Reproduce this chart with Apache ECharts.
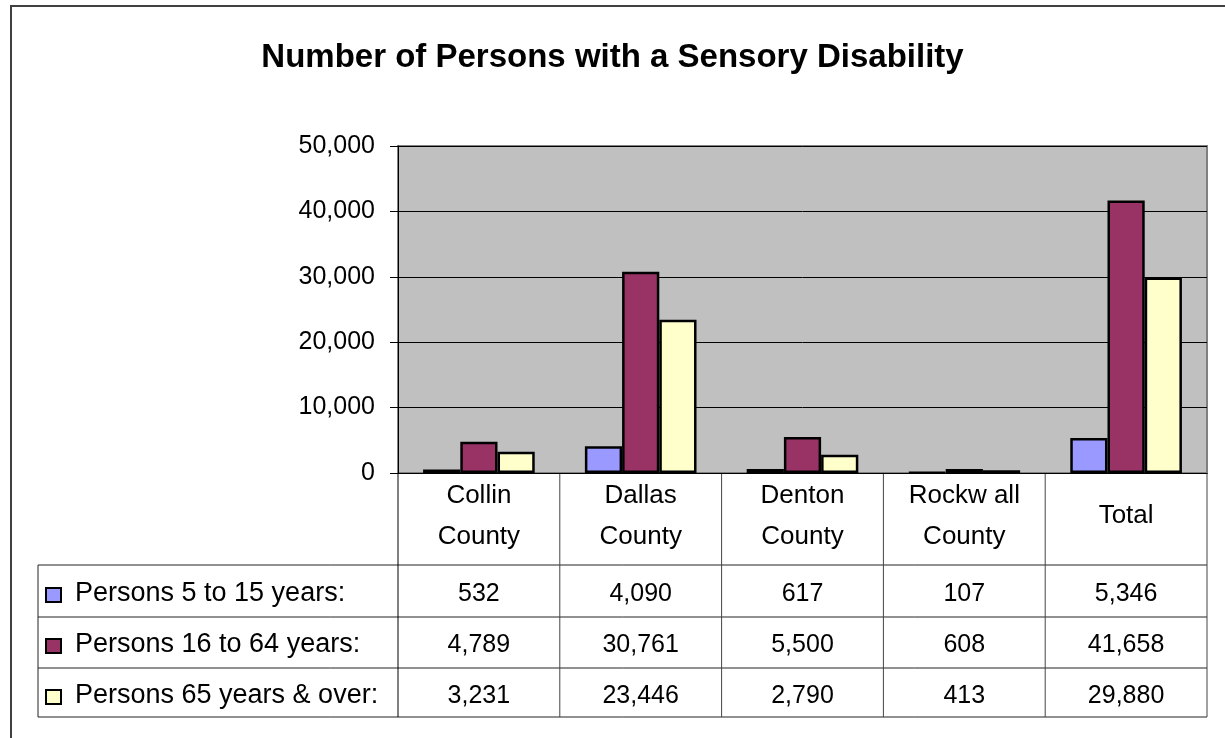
<!DOCTYPE html>
<html>
<head>
<meta charset="utf-8">
<title>Number of Persons with a Sensory Disability</title>
<script src="https://cdn.jsdelivr.net/npm/echarts@6/dist/echarts.min.js"></script>
<style>
  html, body { margin: 0; padding: 0; background: #fff; }
  #main { width: 1225px; height: 738px; }
</style>
</head>
<body>
<div id="main"></div>
<script>
// data
const categories = ['Collin\nCounty', 'Dallas\nCounty', 'Denton\nCounty', 'Rockw all\nCounty', 'Total'];
const seriesNames = ['Persons 5 to 15 years:', 'Persons 16 to 64 years:', 'Persons 65 years & over:'];
const persons5to15 = [532, 4090, 617, 107, 5346];
const persons16to64 = [4789, 30761, 5500, 608, 41658];
const persons65over = [3231, 23446, 2790, 413, 29880];
const yMin = 0, yMax = 50000, yStep = 10000;

const colors = ['#9999FF', '#993366', '#FFFFCC'];
const font = '"Liberation Sans", Arial, sans-serif';
const values = [persons5to15, persons16to64, persons65over];

// table layout (pixels)
const tableLeft = 38;
const rowLines = [565, 617, 668, 717];
const rowMid = [594, 645, 696];
const fs = 25;

const fmt = v => v.toLocaleString('en-US');

var myChart = echarts.init(document.getElementById('main'));

myChart.setOption({
    animation: false,
    textStyle: { fontFamily: font },
    title: {
        text: 'Number of Persons with a Sensory Disability',
        left: 'center',
        top: 36,
        textStyle: { fontSize: 33, fontWeight: 'bold', color: '#000', fontFamily: font }
    },
    grid: {
        left: 398, top: 146, right: 18, bottom: 265,
        show: true,
        backgroundColor: '#C0C0C0',
        borderColor: '#808080',
        borderWidth: 2
    },
    xAxis: {
        type: 'category',
        data: categories,
        axisLine: { lineStyle: { color: '#000', width: 1 } },
        axisTick: { show: false },
        axisLabel: {
            color: '#000', fontSize: 26, lineHeight: 41,
            margin: 43, verticalAlign: 'middle', align: 'center'
        }
    },
    yAxis: {
        type: 'value',
        min: yMin, max: yMax, interval: yStep,
        axisLine: { show: true, lineStyle: { color: '#000', width: 1 } },
        axisTick: { show: true, length: 8, lineStyle: { color: '#000' } },
        axisLabel: { color: '#000', fontSize: fs, margin: 23, formatter: v => fmt(v) },
        splitLine: { lineStyle: { color: '#000', width: 1 } }
    },
    series: seriesNames.map((name, i) => ({
        name: name,
        type: 'bar',
        data: values[i],
        barGap: '0%',
        barCategoryGap: '31%',
        itemStyle: { color: colors[i], borderColor: '#000', borderWidth: 2.5 }
    }))
});

// data table under the chart
const colX = categories.map((c, i) => myChart.convertToPixel({ xAxisIndex: 0 }, i));
const half = (colX[1] - colX[0]) / 2;
const axisY = myChart.convertToPixel({ yAxisIndex: 0 }, 0);
const g = [];
// outer frame
g.push({ type: 'rect', shape: { x: 11, y: 6, width: 1400, height: 900 },
    style: { fill: null, stroke: '#404040', lineWidth: 2 }, silent: true });
rowLines.forEach(y => g.push({ type: 'line', shape: { x1: tableLeft, y1: y, x2: colX[4] + half, y2: y },
    style: { stroke: '#222', lineWidth: 1 } }));
g.push({ type: 'line', shape: { x1: tableLeft, y1: rowLines[0], x2: tableLeft, y2: rowLines[3] },
    style: { stroke: '#222', lineWidth: 1 } });
colX.concat([colX[4] + 2 * half]).forEach((x, i) => g.push({ type: 'line',
    shape: { x1: x - half, y1: axisY, x2: x - half, y2: rowLines[3] },
    style: { stroke: i === 0 ? '#000' : '#444', lineWidth: 1 } }));
seriesNames.forEach((name, r) => {
    g.push({ type: 'rect', shape: { x: 46, y: rowMid[r] - 6, width: 15, height: 14 },
        style: { fill: colors[r], stroke: '#000', lineWidth: 2 } });
    g.push({ type: 'text', x: 75, y: rowMid[r],
        style: { text: name, fill: '#000', font: '27px ' + font, verticalAlign: 'middle', align: 'left' } });
    values[r].forEach((v, c) => g.push({ type: 'text', x: colX[c], y: rowMid[r],
        style: { text: fmt(v), fill: '#000', font: fs + 'px ' + font, verticalAlign: 'middle', align: 'center' } }));
});
myChart.setOption({ graphic: g });
</script>
</body>
</html>
